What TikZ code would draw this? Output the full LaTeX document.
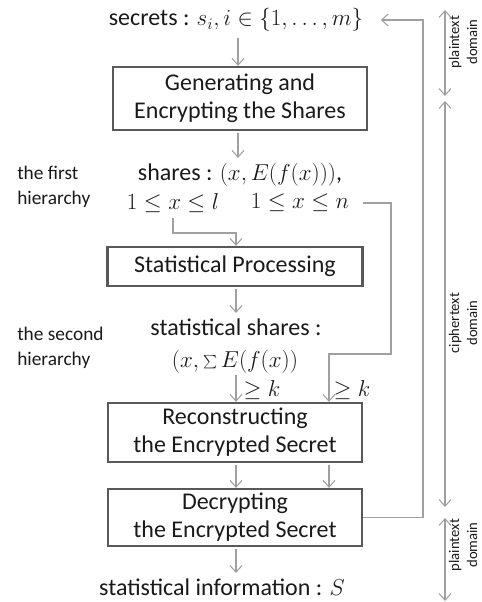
\documentclass[tikz,border=0pt]{standalone}
\usepackage{fontspec}
\setmainfont{Carlito}
\usetikzlibrary{arrows.meta}
\definecolor{boxgray}{HTML}{595959}
\definecolor{conngray}{HTML}{A0A0A0}
\definecolor{txtcol}{HTML}{1A1A1A}
\begin{document}
\begin{tikzpicture}[x=0.75pt,y=-0.75pt,
  every node/.style={text=txtcol},
  box/.style={draw=boxgray, line width=1.7pt, align=center, inner sep=0pt,
    font=\fontsize{18}{21}\selectfont},
  txt/.style={inner sep=0pt, font=\fontsize{18}{21}\selectfont},
  side/.style={inner sep=0pt, align=left, font=\fontsize{14.5}{18.5}\selectfont},
  dom/.style={inner sep=0pt, align=center, rotate=90, font=\fontsize{11}{13.5}\selectfont},
  conn/.style={draw=conngray, line width=0.8pt},
  arr/.style={conn, -{Straight Barb[length=5pt,width=9pt]}},
  darr/.style={conn, {Straight Barb[length=5pt,width=9pt]}-{Straight Barb[length=5pt,width=9pt]}}]
\useasboundingbox (0,0) rectangle (481,602);

% boxes
\node[box, minimum width=190.5pt, minimum height=47.25pt] (b1) at (240,98.5)
  {Generating and\\Encrypting the Shares};
\node[box, minimum width=191.25pt, minimum height=29.25pt] (b2) at (235,266.5)
  {Statistical Processing};
\node[box, minimum width=190.5pt, minimum height=44.25pt] (b3) at (235,432.5)
  {Reconstructing\\the Encrypted Secret};
\node[box, minimum width=190.5pt, minimum height=42.75pt] (b4) at (235,517.5)
  {Decrypting\\the Encrypted Secret};

% texts
\node[txt] (sec) at (236,20) {secrets : $s_i, i \in \{1, \ldots, m\}$};
\node[txt] (sh1) at (240,175) {shares : $(x, E(f(x)))$,};
\node[txt] (sh2a) at (173,203) {$1 \le x \le l$};
\node[txt] (sh2b) at (300,203) {$1 \le x \le n$};
\node[txt] (st1) at (236,327) {statistical shares :};
\node[txt] (st2) at (235,362) {$(x, \sum E(f(x))$};
\node[txt] (gk1) at (262,390) {$\geq k$};
\node[txt] (gk2) at (352,390) {$\geq k$};
\node[txt] (info) at (222,587) {statistical information : $S$};

\node[side, anchor=west] (h1) at (17,187) {the first\\hierarchy};
\node[side, anchor=west] (h2) at (17,348) {the second\\hierarchy};

\node[dom] (d1) at (463,42) {plaintext\\domain};
\node[dom] (d2) at (463,323) {ciphertext\\domain};
\node[dom] (d3) at (463,545) {plaintext\\domain};

% helper coordinates
\coordinate (colL) at (236,0);
\coordinate (colR) at (329,0);
\coordinate (fbx) at (423,0);
\coordinate (rx) at (391,0);
\coordinate (j1) at (205,233);
\coordinate (j2) at (360,354);

% connectors
\draw[arr] (colL |- sec.south) ++(2,6) coordinate (a0) -- (b1.north -| a0);
\draw[arr] ([yshift=-1.5pt]b1.south -| a0) -- ([yshift=4pt]sh1.north -| a0);
\draw[arr] ([yshift=-4pt]sh2a.south) |- (j1) -| (b2.north -| colL);
\draw[arr] ([yshift=-1.5pt]b2.south -| colL) -- ([yshift=4pt]st1.north -| colL);
\draw[arr] ([yshift=-1pt]st2.south -| colL) -- (b3.north -| colL);
\draw[arr] ([xshift=10pt]sh2b.east) -| (rx |- j2) -| (b3.north -| colR);
\draw[arr] ([yshift=-1.5pt]b3.south -| colL) -- (b4.north -| colL);
\draw[arr] ([yshift=-1.5pt]b3.south -| colR) -- (b4.north -| colR);
\draw[arr] ([yshift=-1.5pt]b4.south -| colL) -- ([yshift=4pt]info.north -| colL);
\draw[arr] (b4.east) -| (fbx |- sec.east) -- ([xshift=13pt]sec.east);

% domain arrows
\coordinate (p1a) at (445,10);
\coordinate (p1b) at (445,96);
\coordinate (c1a) at (445,101);
\coordinate (c1b) at (445,507);
\coordinate (p2a) at (445,518);
\coordinate (p2b) at (445,601);
\draw[darr] (p1a) -- (p1b);
\draw[darr] (c1a) -- (c1b);
\draw[darr] (p2a) -- (p2b);
\end{tikzpicture}
\end{document}
